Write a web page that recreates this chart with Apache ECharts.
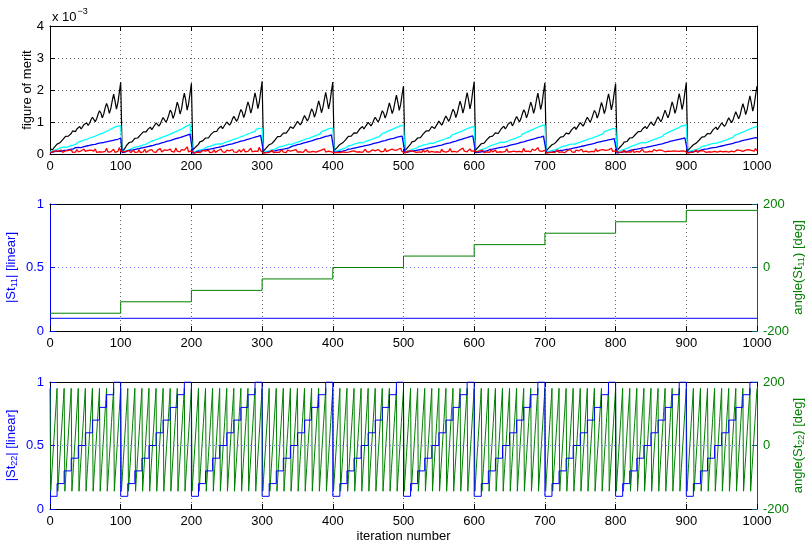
<!DOCTYPE html>
<html><head><meta charset="utf-8">
<script src="https://cdn.jsdelivr.net/npm/echarts@6/dist/echarts.min.js"></script>
<style>html,body{margin:0;padding:0;background:#fff}#c{width:809px;height:543px}</style>
</head><body><div id="c"></div>
<script>
// ---------- DATA ----------
// iteration axis ticks
const iterTicks = [0,100,200,300,400,500,600,700,800,900,1000];
// figure of merit (units of 1e-3), sampled every 2 iterations, x = 0,2,...,1000
const fomStep = 2;
const fomBlack = [0.15,
0.10,0.14,0.21,0.25,0.31,0.37,0.35,0.40,0.45,0.47,0.55,0.52,0.56,0.61,0.64,0.72,0.66,0.70,0.78,0.82,0.86,0.78,0.84,0.92,0.98,0.97,0.89,0.96,1.07,1.15,1.12,1.01,1.10,1.24,1.35,1.28,1.13,1.25,1.44,1.58,1.46,1.27,1.42,1.66,1.87,1.65,1.40,1.60,1.92,2.24,
0.08,0.13,0.18,0.26,0.29,0.36,0.34,0.38,0.44,0.49,0.53,0.50,0.54,0.60,0.66,0.69,0.63,0.69,0.76,0.81,0.84,0.76,0.82,0.90,0.97,0.99,0.87,0.94,1.05,1.14,1.14,0.99,1.08,1.22,1.37,1.30,1.11,1.23,1.42,1.62,1.48,1.25,1.40,1.68,1.90,1.68,1.37,1.57,1.88,2.21,
0.12,0.16,0.22,0.27,0.30,0.38,0.36,0.41,0.46,0.50,0.56,0.50,0.55,0.62,0.67,0.70,0.64,0.71,0.79,0.84,0.87,0.79,0.85,0.93,1.00,1.00,0.90,0.97,1.09,1.18,1.15,1.02,1.11,1.26,1.39,1.31,1.14,1.27,1.46,1.63,1.49,1.28,1.44,1.69,1.91,1.70,1.42,1.61,1.95,2.27,
0.09,0.15,0.19,0.24,0.29,0.35,0.33,0.39,0.43,0.48,0.54,0.49,0.55,0.60,0.65,0.71,0.65,0.70,0.77,0.85,0.88,0.80,0.86,0.94,1.02,1.03,0.91,0.98,1.10,1.20,1.17,1.03,1.12,1.27,1.41,1.33,1.15,1.28,1.47,1.66,1.50,1.29,1.45,1.70,1.93,1.68,1.41,1.62,1.96,2.25,
0.11,0.15,0.20,0.26,0.30,0.36,0.35,0.40,0.44,0.48,0.55,0.51,0.56,0.61,0.66,0.70,0.65,0.70,0.78,0.83,0.86,0.78,0.83,0.92,0.99,0.98,0.88,0.95,1.06,1.15,1.12,1.00,1.08,1.22,1.35,1.28,1.12,1.24,1.42,1.60,1.45,1.26,1.40,1.63,1.84,1.62,1.36,1.55,1.86,2.12,
0.10,0.16,0.21,0.26,0.31,0.38,0.35,0.40,0.45,0.50,0.55,0.51,0.57,0.63,0.68,0.72,0.66,0.72,0.79,0.86,0.89,0.80,0.87,0.95,1.03,1.02,0.90,0.98,1.10,1.19,1.16,1.02,1.12,1.27,1.40,1.32,1.14,1.27,1.47,1.65,1.50,1.28,1.45,1.70,1.92,1.69,1.41,1.62,1.97,2.26,
0.12,0.17,0.22,0.27,0.32,0.37,0.34,0.39,0.45,0.49,0.54,0.50,0.56,0.62,0.66,0.71,0.64,0.70,0.78,0.83,0.87,0.78,0.85,0.94,1.00,1.00,0.88,0.96,1.08,1.17,1.14,1.00,1.10,1.25,1.38,1.30,1.13,1.26,1.45,1.62,1.48,1.27,1.43,1.68,1.90,1.67,1.39,1.59,1.93,2.22,
0.10,0.14,0.20,0.25,0.29,0.35,0.33,0.38,0.43,0.47,0.53,0.49,0.54,0.60,0.65,0.69,0.63,0.69,0.76,0.82,0.85,0.77,0.83,0.91,0.98,0.98,0.87,0.95,1.06,1.15,1.13,0.99,1.09,1.23,1.36,1.29,1.12,1.24,1.43,1.61,1.47,1.26,1.41,1.67,1.88,1.66,1.38,1.58,1.91,2.20,
0.11,0.16,0.21,0.27,0.30,0.37,0.35,0.39,0.44,0.50,0.55,0.51,0.55,0.61,0.67,0.70,0.64,0.71,0.78,0.83,0.86,0.79,0.84,0.93,1.00,0.99,0.89,0.97,1.08,1.16,1.15,1.01,1.10,1.24,1.37,1.31,1.13,1.25,1.45,1.63,1.48,1.27,1.42,1.67,1.89,1.67,1.39,1.60,1.93,2.23,
0.10,0.15,0.20,0.24,0.29,0.35,0.34,0.38,0.43,0.48,0.53,0.49,0.54,0.60,0.64,0.69,0.63,0.68,0.76,0.81,0.84,0.76,0.82,0.90,0.97,0.97,0.86,0.93,1.04,1.13,1.10,0.98,1.06,1.20,1.32,1.26,1.10,1.21,1.40,1.57,1.43,1.23,1.38,1.61,1.82,1.60,1.34,1.53,1.84,2.12];
const fomCyan = [0.08,
0.06,0.10,0.09,0.13,0.12,0.16,0.15,0.20,0.18,0.22,0.23,0.21,0.26,0.25,0.30,0.27,0.32,0.30,0.35,0.37,0.34,0.40,0.38,0.43,0.40,0.46,0.45,0.50,0.47,0.53,0.51,0.56,0.52,0.60,0.58,0.64,0.60,0.66,0.65,0.71,0.67,0.75,0.72,0.80,0.76,0.84,0.78,0.87,0.82,0.88,
0.07,0.11,0.10,0.14,0.12,0.17,0.15,0.19,0.20,0.23,0.22,0.26,0.24,0.28,0.27,0.31,0.29,0.34,0.33,0.36,0.39,0.36,0.42,0.40,0.45,0.43,0.48,0.46,0.52,0.50,0.55,0.52,0.58,0.56,0.62,0.59,0.66,0.63,0.70,0.66,0.74,0.70,0.78,0.74,0.83,0.79,0.88,0.84,0.93,0.90,
0.05,0.09,0.08,0.12,0.11,0.15,0.14,0.17,0.16,0.20,0.22,0.19,0.24,0.23,0.27,0.25,0.30,0.28,0.32,0.34,0.31,0.37,0.35,0.40,0.38,0.43,0.41,0.46,0.44,0.50,0.47,0.53,0.50,0.56,0.54,0.60,0.57,0.63,0.61,0.67,0.64,0.70,0.68,0.74,0.71,0.78,0.75,0.80,0.77,0.80,
0.06,0.10,0.08,0.12,0.10,0.14,0.13,0.16,0.15,0.19,0.20,0.18,0.23,0.21,0.25,0.24,0.28,0.26,0.31,0.33,0.30,0.35,0.34,0.38,0.37,0.42,0.40,0.45,0.43,0.48,0.47,0.52,0.49,0.55,0.53,0.59,0.56,0.62,0.60,0.66,0.63,0.70,0.67,0.73,0.71,0.77,0.74,0.80,0.76,0.81,
0.07,0.11,0.10,0.15,0.13,0.17,0.16,0.21,0.19,0.23,0.25,0.22,0.27,0.26,0.31,0.28,0.33,0.31,0.36,0.38,0.35,0.41,0.39,0.44,0.42,0.47,0.45,0.51,0.48,0.54,0.52,0.57,0.54,0.61,0.58,0.65,0.62,0.69,0.66,0.73,0.69,0.77,0.73,0.81,0.77,0.85,0.80,0.88,0.84,0.90,
0.06,0.10,0.09,0.14,0.12,0.16,0.15,0.19,0.18,0.22,0.24,0.21,0.26,0.24,0.29,0.27,0.31,0.29,0.34,0.37,0.33,0.39,0.37,0.42,0.40,0.45,0.43,0.49,0.46,0.52,0.50,0.55,0.52,0.59,0.56,0.62,0.59,0.66,0.63,0.69,0.66,0.73,0.70,0.77,0.73,0.81,0.77,0.84,0.80,0.86,
0.07,0.12,0.10,0.15,0.14,0.18,0.16,0.21,0.20,0.24,0.25,0.23,0.28,0.26,0.31,0.29,0.34,0.32,0.37,0.39,0.36,0.42,0.39,0.45,0.43,0.48,0.46,0.52,0.49,0.55,0.53,0.58,0.55,0.62,0.59,0.66,0.62,0.70,0.66,0.74,0.70,0.78,0.74,0.82,0.78,0.86,0.81,0.89,0.85,0.90,
0.06,0.09,0.08,0.12,0.11,0.15,0.13,0.17,0.16,0.20,0.21,0.19,0.24,0.22,0.26,0.25,0.29,0.27,0.31,0.34,0.31,0.36,0.34,0.39,0.37,0.42,0.40,0.45,0.43,0.49,0.47,0.52,0.49,0.55,0.53,0.59,0.56,0.62,0.60,0.66,0.63,0.70,0.67,0.73,0.70,0.76,0.73,0.79,0.76,0.80,
0.07,0.11,0.10,0.14,0.13,0.17,0.16,0.20,0.19,0.23,0.24,0.22,0.27,0.25,0.30,0.28,0.33,0.31,0.36,0.38,0.35,0.41,0.38,0.44,0.42,0.47,0.45,0.51,0.48,0.54,0.52,0.57,0.54,0.61,0.58,0.65,0.61,0.69,0.66,0.73,0.70,0.77,0.73,0.81,0.77,0.86,0.80,0.89,0.85,0.91,
0.06,0.10,0.09,0.13,0.12,0.16,0.14,0.19,0.17,0.21,0.23,0.20,0.25,0.24,0.28,0.26,0.31,0.29,0.33,0.36,0.33,0.38,0.36,0.41,0.39,0.44,0.42,0.48,0.45,0.51,0.49,0.54,0.51,0.58,0.55,0.61,0.58,0.65,0.62,0.68,0.65,0.72,0.69,0.76,0.72,0.80,0.76,0.83,0.79,0.86];
const fomBlue = [0.04,
0.04,0.06,0.05,0.08,0.07,0.09,0.10,0.08,0.12,0.11,0.13,0.12,0.15,0.14,0.17,0.15,0.18,0.20,0.17,0.21,0.23,0.20,0.25,0.23,0.27,0.25,0.29,0.27,0.31,0.29,0.33,0.30,0.35,0.33,0.37,0.35,0.39,0.36,0.41,0.38,0.43,0.40,0.45,0.42,0.48,0.44,0.50,0.46,0.52,0.50,
0.04,0.07,0.06,0.08,0.10,0.09,0.12,0.10,0.13,0.12,0.15,0.14,0.17,0.15,0.19,0.18,0.21,0.19,0.23,0.22,0.25,0.23,0.27,0.26,0.30,0.28,0.32,0.30,0.35,0.33,0.37,0.35,0.40,0.38,0.42,0.40,0.45,0.43,0.48,0.45,0.50,0.47,0.53,0.50,0.56,0.53,0.59,0.55,0.62,0.60,
0.03,0.06,0.05,0.07,0.09,0.08,0.10,0.09,0.12,0.11,0.14,0.12,0.15,0.14,0.17,0.16,0.19,0.17,0.21,0.20,0.23,0.21,0.25,0.24,0.28,0.26,0.30,0.28,0.32,0.31,0.35,0.33,0.37,0.35,0.40,0.38,0.42,0.40,0.45,0.43,0.47,0.45,0.50,0.48,0.53,0.50,0.55,0.53,0.58,0.57,
0.04,0.06,0.05,0.08,0.07,0.10,0.09,0.11,0.10,0.13,0.12,0.15,0.14,0.16,0.15,0.18,0.17,0.20,0.19,0.22,0.24,0.22,0.26,0.25,0.29,0.27,0.31,0.29,0.34,0.32,0.36,0.34,0.39,0.37,0.41,0.39,0.44,0.42,0.47,0.44,0.49,0.47,0.52,0.50,0.55,0.52,0.57,0.55,0.60,0.59,
0.04,0.07,0.06,0.09,0.08,0.10,0.09,0.12,0.11,0.13,0.15,0.13,0.16,0.15,0.18,0.17,0.20,0.18,0.22,0.21,0.24,0.22,0.26,0.25,0.28,0.27,0.30,0.29,0.33,0.31,0.35,0.33,0.37,0.36,0.40,0.38,0.42,0.40,0.45,0.42,0.47,0.44,0.49,0.47,0.52,0.49,0.54,0.51,0.56,0.55,
0.05,0.07,0.06,0.09,0.08,0.11,0.10,0.12,0.11,0.14,0.13,0.16,0.14,0.17,0.16,0.19,0.18,0.21,0.20,0.23,0.22,0.25,0.24,0.27,0.26,0.30,0.28,0.32,0.31,0.34,0.33,0.37,0.35,0.39,0.38,0.42,0.40,0.45,0.43,0.48,0.46,0.50,0.49,0.53,0.51,0.56,0.54,0.58,0.57,0.60,
0.04,0.06,0.05,0.08,0.07,0.09,0.08,0.11,0.10,0.12,0.14,0.12,0.15,0.14,0.17,0.16,0.19,0.17,0.21,0.20,0.22,0.21,0.24,0.23,0.27,0.25,0.29,0.27,0.31,0.30,0.33,0.31,0.36,0.34,0.38,0.36,0.41,0.39,0.43,0.41,0.46,0.43,0.48,0.46,0.51,0.48,0.53,0.50,0.56,0.55,
0.04,0.06,0.05,0.07,0.06,0.09,0.08,0.10,0.09,0.12,0.11,0.13,0.12,0.15,0.14,0.16,0.15,0.18,0.17,0.20,0.19,0.22,0.21,0.24,0.23,0.26,0.25,0.28,0.27,0.30,0.29,0.32,0.31,0.35,0.33,0.37,0.36,0.40,0.38,0.42,0.40,0.44,0.42,0.46,0.44,0.48,0.46,0.50,0.48,0.50,
0.03,0.05,0.05,0.07,0.06,0.08,0.08,0.10,0.09,0.11,0.12,0.11,0.14,0.13,0.15,0.14,0.17,0.16,0.19,0.18,0.20,0.19,0.22,0.21,0.24,0.23,0.26,0.25,0.28,0.27,0.30,0.29,0.32,0.31,0.35,0.33,0.37,0.36,0.40,0.38,0.42,0.40,0.44,0.42,0.46,0.44,0.48,0.46,0.50,0.49,
0.04,0.06,0.06,0.08,0.07,0.09,0.09,0.11,0.10,0.12,0.13,0.12,0.15,0.14,0.16,0.15,0.18,0.17,0.20,0.19,0.21,0.20,0.23,0.22,0.25,0.24,0.27,0.26,0.29,0.28,0.31,0.30,0.33,0.32,0.36,0.34,0.38,0.36,0.41,0.39,0.43,0.41,0.45,0.43,0.47,0.45,0.49,0.47,0.51,0.50];
const fomRed = [0.03,
0.03,0.08,0.05,0.10,0.04,0.09,0.06,0.12,0.05,0.08,0.10,0.04,0.11,0.07,0.13,0.05,0.09,0.06,0.14,0.07,0.05,0.10,0.06,0.15,0.08,0.04,0.11,0.07,0.12,0.06,0.09,0.16,0.05,0.10,0.07,0.13,0.06,0.11,0.08,0.18,0.06,0.12,0.07,0.10,0.15,0.05,0.11,0.08,0.20,0.09,
0.04,0.07,0.03,0.09,0.06,0.11,0.04,0.08,0.12,0.05,0.09,0.06,0.13,0.04,0.10,0.07,0.15,0.05,0.09,0.11,0.06,0.14,0.07,0.10,0.05,0.12,0.08,0.17,0.06,0.10,0.13,0.07,0.11,0.05,0.15,0.08,0.12,0.06,0.19,0.09,0.11,0.07,0.14,0.08,0.12,0.10,0.22,0.07,0.13,0.10,
0.05,0.03,0.09,0.06,0.10,0.04,0.08,0.11,0.05,0.09,0.07,0.12,0.04,0.10,0.06,0.13,0.05,0.08,0.11,0.06,0.15,0.07,0.09,0.05,0.12,0.08,0.10,0.06,0.14,0.07,0.11,0.05,0.09,0.13,0.06,0.10,0.16,0.07,0.12,0.08,0.10,0.18,0.07,0.11,0.09,0.13,0.08,0.21,0.10,0.12,
0.03,0.07,0.04,0.10,0.05,0.08,0.12,0.04,0.09,0.06,0.11,0.05,0.08,0.13,0.06,0.10,0.04,0.12,0.07,0.09,0.05,0.11,0.08,0.14,0.06,0.10,0.07,0.12,0.05,0.09,0.15,0.07,0.11,0.06,0.10,0.08,0.13,0.06,0.11,0.09,0.07,0.12,0.08,0.16,0.06,0.10,0.09,0.13,0.07,0.11,
0.04,0.08,0.05,0.11,0.04,0.09,0.07,0.13,0.05,0.10,0.06,0.12,0.08,0.05,0.10,0.14,0.06,0.09,0.07,0.12,0.05,0.10,0.15,0.07,0.11,0.06,0.09,0.13,0.08,0.10,0.06,0.14,0.09,0.07,0.12,0.08,0.17,0.07,0.10,0.12,0.08,0.15,0.09,0.11,0.07,0.14,0.10,0.18,0.08,0.12,
0.03,0.06,0.09,0.04,0.10,0.06,0.08,0.12,0.05,0.09,0.07,0.11,0.05,0.13,0.06,0.09,0.12,0.05,0.10,0.08,0.14,0.06,0.10,0.07,0.12,0.05,0.15,0.08,0.10,0.06,0.12,0.09,0.17,0.07,0.11,0.08,0.14,0.06,0.10,0.13,0.08,0.19,0.09,0.12,0.07,0.11,0.16,0.09,0.13,0.10,
0.04,0.07,0.05,0.10,0.06,0.12,0.04,0.09,0.07,0.11,0.05,0.14,0.06,0.09,0.12,0.05,0.10,0.07,0.13,0.06,0.11,0.08,0.16,0.06,0.10,0.07,0.12,0.09,0.14,0.07,0.10,0.08,0.13,0.06,0.18,0.08,0.11,0.09,0.12,0.07,0.15,0.09,0.11,0.08,0.20,0.10,0.12,0.08,0.14,0.11,
0.03,0.08,0.04,0.09,0.06,0.11,0.05,0.08,0.13,0.05,0.10,0.07,0.12,0.04,0.09,0.11,0.06,0.14,0.07,0.10,0.05,0.12,0.08,0.10,0.06,0.15,0.07,0.11,0.09,0.13,0.06,0.10,0.08,0.12,0.07,0.16,0.08,0.10,0.12,0.07,0.14,0.09,0.11,0.08,0.13,0.10,0.18,0.08,0.12,0.10,
0.04,0.06,0.10,0.05,0.08,0.12,0.05,0.09,0.07,0.11,0.06,0.13,0.05,0.10,0.08,0.12,0.06,0.09,0.15,0.07,0.10,0.06,0.12,0.08,0.11,0.07,0.14,0.09,0.10,0.06,0.13,0.08,0.11,0.17,0.07,0.10,0.09,0.13,0.08,0.12,0.10,0.16,0.09,0.11,0.08,0.14,0.10,0.12,0.09,0.13,
0.03,0.07,0.05,0.10,0.06,0.09,0.12,0.05,0.08,0.11,0.06,0.10,0.14,0.05,0.09,0.07,0.12,0.06,0.10,0.08,0.13,0.06,0.11,0.09,0.15,0.07,0.10,0.08,0.12,0.06,0.11,0.09,0.14,0.07,0.10,0.13,0.08,0.11,0.16,0.08,0.10,0.12,0.09,0.14,0.08,0.11,0.13,0.09,0.17,0.10];
// |St11| and angle(St11): one value per 100-iteration block
const st11MagBlocks = [0.1,0.1,0.1,0.1,0.1,0.1,0.1,0.1,0.1,0.1];
const st11AngleBlocks = [-144,-108,-72,-36,0,36,72,108,144,180];
// |St22| and angle(St22): sweep cycles
const st22MagSteps = [0.1,0.2,0.3,0.4,0.5,0.6,0.7,0.8,0.9,1.0];   // each held 10 iterations, cycle of 100
const st22AnglePerIter = [-144,-108,-72,-36,0,36,72,108,144,180]; // one per iteration, cycle of 10
const fomTicks = [0,1,2,3,4];
const magTicks = [0,0.5,1];
const angTicks = [-200,0,200];

// ---------- BUILD ----------
const FONT = '"Liberation Sans", Arial, Helvetica, sans-serif';
const FS = 13;
const BLUE = '#0000ff', GREEN = '#008000';
function fomPairs(a){ return a.map((v,i)=>[i*fomStep, v]); }
function blockPairs(a){ const r = a.map((v,k)=>[k*100, v]); r.push([1000, a[a.length-1]]); return r; }
const st22MagData = []; for (let b=0;b<10;b++) for (let j=0;j<10;j++) st22MagData.push([b*100+j*10, st22MagSteps[j]]);
st22MagData.push([1000, st22MagSteps[9]]);
const st22AngData = []; for (let i=0;i<=1000;i++) st22AngData.push([i, st22AnglePerIter[(i+9)%10]]);

const grids = [
  {left:50, right:52, top:26, height:128, outerBoundsMode:'none', containLabel:false},
  {left:50, right:52, top:204, height:127, outerBoundsMode:'none', containLabel:false},
  {left:50, right:52, top:382, height:127, outerBoundsMode:'none', containLabel:false}
];
const tick = {show:true, inside:true, length:5, lineStyle:{color:'#000'}};
const dotted = (c)=>({show:true, lineStyle:{type:[1,3], color:c, width:1}});
const lbl = (c)=>({color:c, fontFamily:FONT, fontSize:FS, margin:6, formatter:(v)=>String(v)});
const xAxes = [];
for (let g=0; g<3; g++) {
  xAxes.push({type:'value', gridIndex:g, min:0, max:1000, interval:100, position:'bottom',
    axisLine:{onZero:false, lineStyle:{color:'#000'}}, axisTick:tick, axisLabel:lbl('#000'),
    splitLine:dotted('#666'),
    name: g===2 ? 'iteration number' : '', nameLocation:'middle', nameGap:21, nameMoveOverlap:false,
    nameTextStyle:{fontFamily:FONT, fontSize:FS, color:'#000'}});
}
for (let g=0; g<3; g++) {
  xAxes.push({type:'value', gridIndex:g, min:0, max:1000, interval:100, position:'top',
    axisLine:{onZero:false, lineStyle:{color:'#000'}}, axisTick:tick, axisLabel:{show:false}, splitLine:{show:false}});
}
const subRich = (c)=>({ a:{color:c, fontFamily:FONT, fontSize:FS}, s:{color:c, fontFamily:FONT, fontSize:9, padding:[6,0,0,0]} });
const yAxes = [
  {type:'value', gridIndex:0, min:0, max:4, interval:1, position:'left',
   axisLine:{show:true, onZero:false, lineStyle:{color:'#000'}}, axisTick:tick, axisLabel:lbl('#000'),
   splitLine:dotted('#666'), name:'figure of merit', nameLocation:'middle', nameRotate:90, nameGap:16, nameMoveOverlap:false,
   nameTextStyle:{fontFamily:FONT, fontSize:FS, color:'#000'}},
  {type:'value', gridIndex:0, min:0, max:4, interval:1, position:'right',
   axisLine:{show:true, onZero:false, lineStyle:{color:'#000'}}, axisTick:tick, axisLabel:{show:false}, splitLine:{show:false}},
];
for (let g=1; g<3; g++) {
  const sub = g===1 ? '11' : '22';
  yAxes.push({type:'value', gridIndex:g, min:0, max:1, interval:0.5, position:'left',
    axisLine:{show:true, onZero:false, lineStyle:{color:BLUE}}, axisTick:{show:true, inside:true, length:5, lineStyle:{color:BLUE}},
    axisLabel:lbl(BLUE), splitLine:dotted('#8080ff'),
    name:'{a||St}{s|'+sub+'}{a|| [linear]}', nameLocation:'middle', nameRotate:90, nameGap:31, nameMoveOverlap:false,
    nameTextStyle:{rich:subRich(BLUE)}});
  yAxes.push({type:'value', gridIndex:g, min:-200, max:200, interval:200, position:'right',
    axisLine:{show:true, onZero:false, lineStyle:{color:'#0d5c6e'}}, axisTick:{show:true, inside:true, length:5, lineStyle:{color:'#0d5c6e'}},
    axisLabel:lbl(GREEN), splitLine:{show:false},
    name:'{a|angle(St}{s|'+sub+'}{a|) [deg]}', nameLocation:'middle', nameRotate:90, nameGap:34, nameMoveOverlap:false,
    nameTextStyle:{rich:subRich(GREEN)}});
}
const ln = (name, xi, yi, data, color, w, extra)=>Object.assign({name, type:'line', xAxisIndex:xi, yAxisIndex:yi, data,
  showSymbol:false, symbol:'none', silent:true, animation:false, lineStyle:{color, width:w}, itemStyle:{color}}, extra||{});
const series = [
  ln('black',0,0,fomPairs(fomBlack),'#000000',1.2),
  ln('cyan',0,0,fomPairs(fomCyan),'#00ffff',1.3),
  ln('blue',0,0,fomPairs(fomBlue),'#0000ff',1.3),
  ln('red',0,0,fomPairs(fomRed),'#ff0000',1.3),
  ln('st11mag',1,2,blockPairs(st11MagBlocks),BLUE,1,{step:'end'}),
  ln('st11ang',1,3,blockPairs(st11AngleBlocks),GREEN,1,{step:'end'}),
  ln('st22ang',2,5,st22AngData,GREEN,1),
  ln('st22mag',2,4,st22MagData,BLUE,1,{step:'end'}),
];
const chart = echarts.init(document.getElementById('c'), null, {renderer:'canvas'});
chart.setOption({
  animation:false, backgroundColor:'#fff',
  grid:grids, xAxis:xAxes, yAxis:yAxes, series,
  graphic:[{type:'text', left:52, top:7, style:{text:'{a|x 10}{s|−3}', rich:{a:{fontFamily:FONT, fontSize:FS, fill:'#000', padding:[6,0,0,0]}, s:{fontFamily:FONT, fontSize:9, fill:'#000', padding:[0,0,6,1]}}}}]
});
</script></body></html>
